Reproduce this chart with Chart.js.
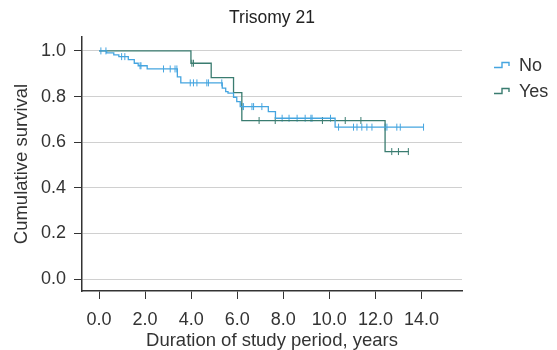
<!DOCTYPE html>
<html>
<head>
<meta charset="utf-8">
<script src="https://cdn.jsdelivr.net/npm/chart.js@4"></script>
<style>
  body { margin: 0; background: #fff; }
  #wrap { position: relative; width: 557px; height: 350px; }
  .legend { position: absolute; left: 494px; top: 52px; font: 18px "Liberation Sans", Arial, sans-serif; color: #333; }
  .legend div { height: 26px; display: flex; align-items: center; }
  .legend svg { margin-right: 9px; }
</style>
</head>
<body>
<div id="wrap">
  <canvas id="km" width="557" height="350"></canvas>
  <div class="legend" id="legend"></div>
</div>
<script>
const groups = ['No', 'Yes'];
const colors = ['#45a5e0', '#3a7c70'];

// Kaplan-Meier steps: event time (years) and survival after it
const noTimes = [0, 0.33, 0.64, 0.86, 1.27, 1.53, 1.70, 2.09, 3.40, 3.55, 5.35, 5.50, 5.60, 5.84, 5.98, 6.13, 7.35, 7.66, 10.25, 14.09];
const noSurv  = [1.0, 0.991, 0.983, 0.975, 0.962, 0.946, 0.935, 0.921, 0.886, 0.860, 0.837, 0.822, 0.815, 0.797, 0.778, 0.756, 0.734, 0.705, 0.666, 0.666];
const noCensored = [0.08, 0.30, 0.98, 1.12, 1.78, 1.82, 2.80, 3.09, 3.30, 3.38, 3.96, 4.10, 4.25, 4.68, 4.75, 5.33,
  6.20, 6.27, 6.64, 6.71, 7.07, 7.95, 8.25, 8.60, 8.95, 9.20, 9.25, 10.05, 10.40, 11.05, 11.20, 11.41, 11.63, 11.85,
  12.42, 12.50, 12.93, 13.08, 14.09];

const yesTimes = [0, 3.99, 4.87, 5.84, 6.20, 12.42, 13.45];
const yesSurv  = [1.0, 0.946, 0.883, 0.817, 0.695, 0.559, 0.559];
const yesCensored = [4.03, 4.10, 6.95, 7.65, 9.70, 10.69, 11.37, 12.71, 13.00, 13.43];

const xTicks = [0, 2, 4, 6, 8, 10, 12, 14];
const yTicks = [0, 0.2, 0.4, 0.6, 0.8, 1.0];

const FONT = '"Liberation Sans", Arial, sans-serif';

const survAt = (times, surv, t) => {
  let s = surv[0];
  times.forEach((tt, i) => { if (tt <= t) s = surv[i]; });
  return s;
};

const stepData = (times, surv) => times.map((t, i) => ({ x: t, y: surv[i] }));
const censorData = (times, surv, cens) => cens.map(t => ({ x: t, y: survAt(times, surv, t) }));

const lineSet = (label, data, color) => ({
  label, data, borderColor: color, borderWidth: 1.3, stepped: 'before',
  pointRadius: 0, fill: false
});
const markSet = (label, data, color) => ({
  label, data, showLine: false, borderColor: color, backgroundColor: color,
  pointStyle: 'line', rotation: 90, pointRadius: 3.5, pointBorderWidth: 1, pointHoverRadius: 3.5
});

new Chart(document.getElementById('km'), {
  type: 'line',
  data: {
    datasets: [
      lineSet('No', stepData(noTimes, noSurv), colors[0]),
      lineSet('Yes', stepData(yesTimes, yesSurv), colors[1]),
      markSet('No censored', censorData(noTimes, noSurv, noCensored), colors[0]),
      markSet('Yes censored', censorData(yesTimes, yesSurv, yesCensored), colors[1])
    ]
  },
  options: {
    responsive: false,
    animation: false,
    layout: { padding: { right: 95 } },
    plugins: {
      legend: { display: false },
      tooltip: { enabled: false },
      title: {
        display: true, text: 'Trisomy 21', fullSize: false, color: '#222',
        font: { family: FONT, size: 17.5, weight: 'normal' },
        padding: { top: 8, bottom: 8 }
      }
    },
    scales: {
      x: {
        type: 'linear', min: -0.74, max: 15.76,
        afterBuildTicks: s => { s.ticks = xTicks.map(v => ({ value: v })); },
        afterFit: s => { s.height = 59; },
        ticks: { color: '#333', padding: 10, maxRotation: 0, font: { family: FONT, size: 18 }, callback: v => v.toFixed(1) },
        grid: { drawOnChartArea: false, tickColor: '#333', tickLength: 8 },
        border: { color: '#333', width: 1.5 },
        title: { display: true, text: 'Duration of study period, years', color: '#333',
          font: { family: FONT, size: 18.5, lineHeight: 1 }, padding: { top: 0, bottom: -0.5 } }
      },
      y: {
        min: -0.052, max: 1.061,
        afterBuildTicks: s => { s.ticks = yTicks.map(v => ({ value: v })); },
        afterFit: s => { s.width = 82; },
        ticks: { color: '#333', padding: 8, font: { family: FONT, size: 18 }, callback: v => v.toFixed(1) },
        grid: { color: '#d0d0d0', tickColor: '#333', tickLength: 8 },
        border: { color: '#333', width: 1.5 },
        title: { display: true, text: 'Cumulative survival', color: '#333',
          font: { family: FONT, size: 18.5, lineHeight: 1 }, padding: { top: 12.5, bottom: 0 } }
      }
    }
  }
});

// legend with small step icons
document.getElementById('legend').innerHTML = groups.map((g, i) => `
  <div><svg width="16" height="8"><path d="M0 6.5 H8 V1.5 H15 V5" fill="none" stroke="${colors[i]}" stroke-width="1.4"/></svg>${g}</div>
`).join('');
</script>
</body>
</html>
